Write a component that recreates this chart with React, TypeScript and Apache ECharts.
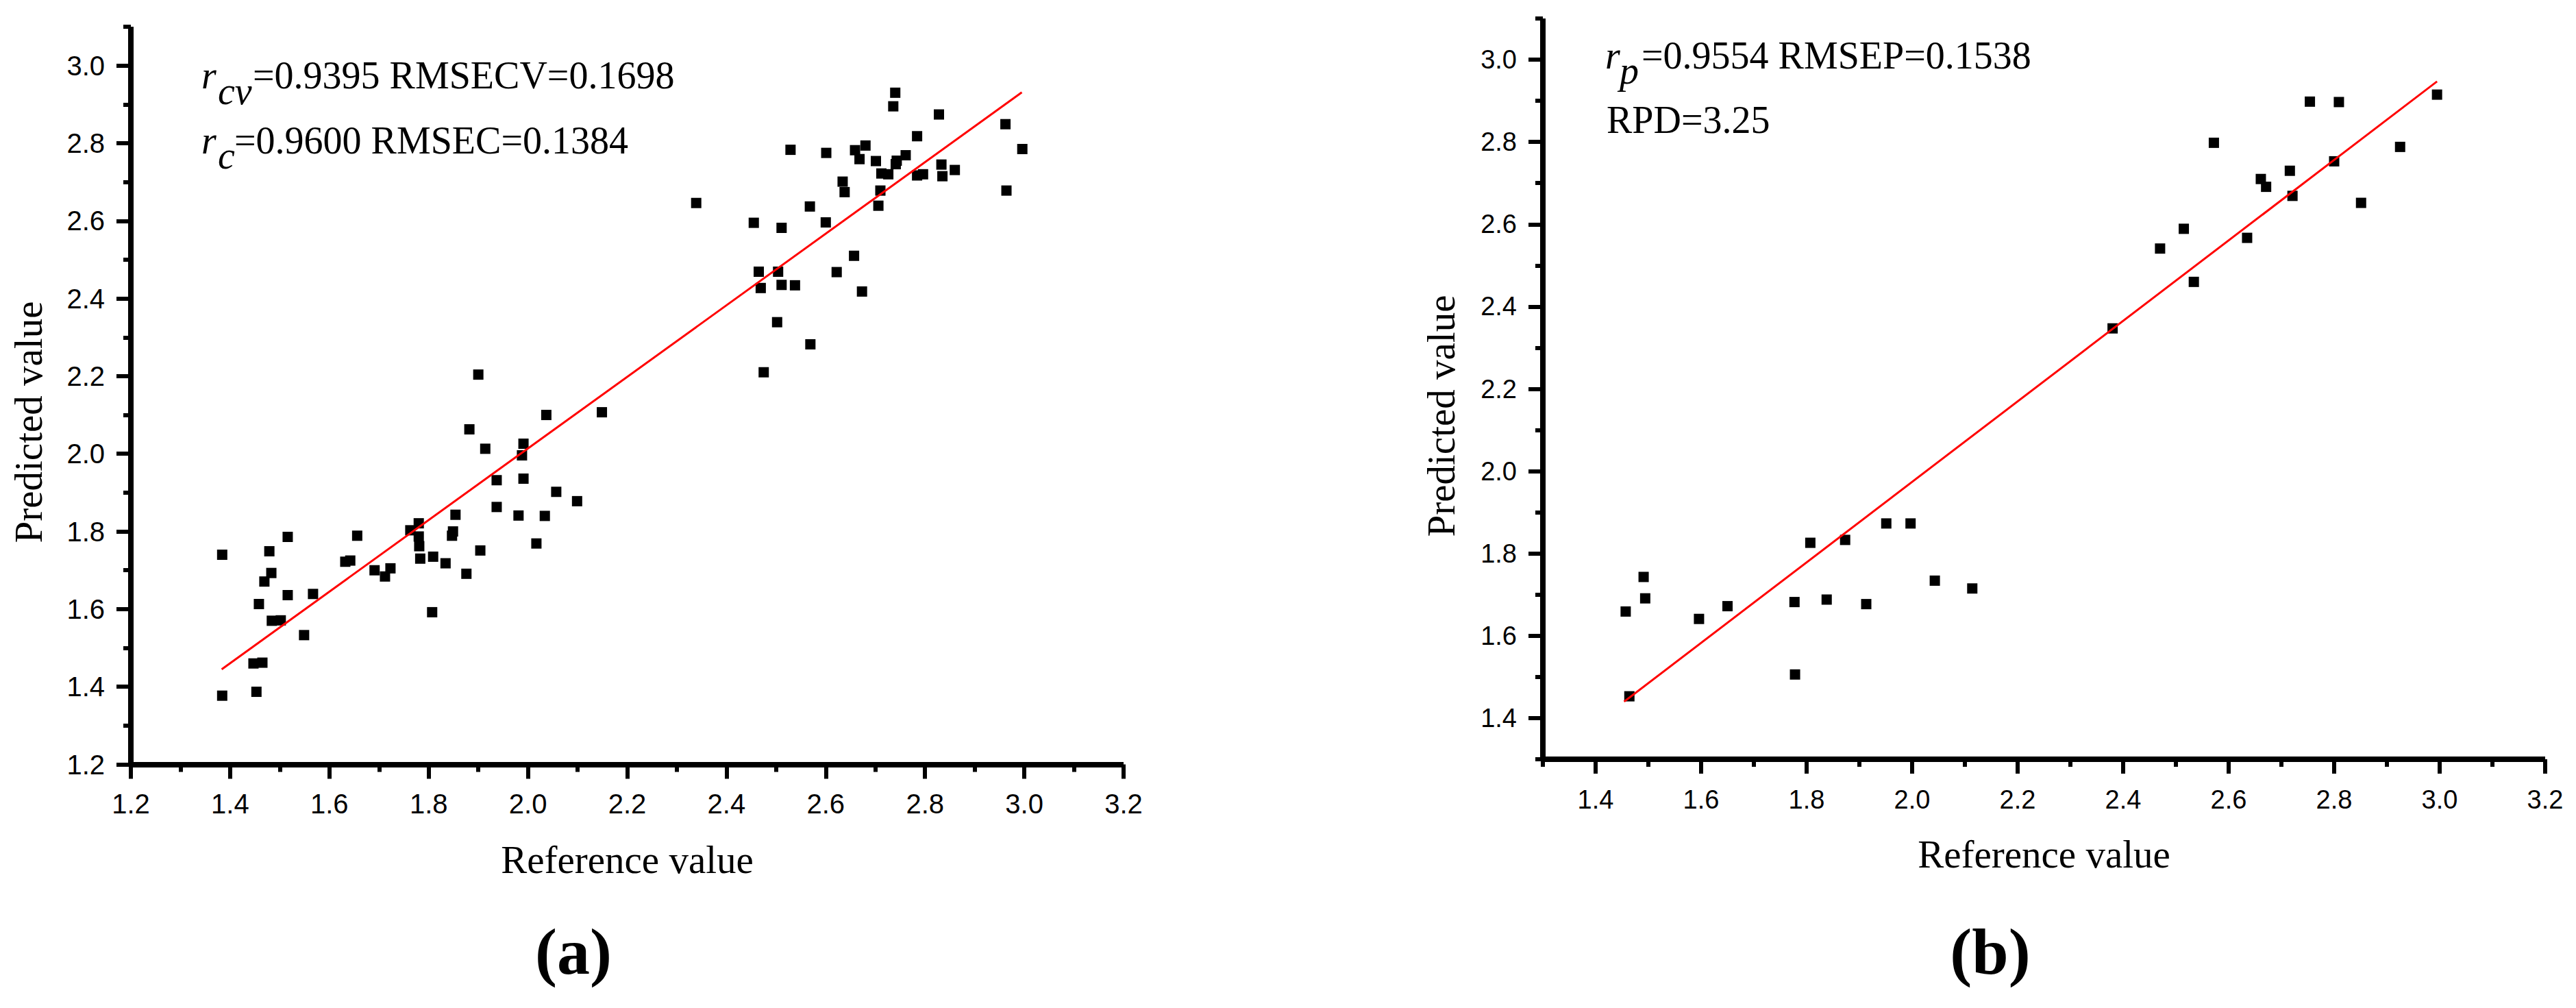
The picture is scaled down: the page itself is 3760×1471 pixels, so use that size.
import React, { useEffect, useRef } from "react";
import * as echarts from "echarts";

// ---------- Data: panel (a) calibration ----------
const REF_A = [
  1.384, 1.384, 1.453, 1.447, 1.465, 1.458, 1.469, 1.483, 1.479, 1.516,
  1.484, 1.502, 1.516, 1.549, 1.567, 1.632, 1.642, 1.656, 1.691, 1.712,
  1.723, 1.763, 1.78, 1.78, 1.781, 1.783, 1.809, 1.807, 1.834, 1.854,
  1.849, 1.847, 1.876, 1.904, 1.882, 1.914, 1.937, 1.937, 2.037, 2.149,
  1.991, 1.988, 1.991, 2.057, 2.099, 1.981, 2.034, 2.017, 1.9, 2.339,
  2.455, 2.511, 2.568, 2.6, 2.529, 2.601, 2.659, 2.68, 2.668, 2.701,
  2.74, 2.736, 2.828, 2.784, 2.761, 2.743, 2.741, 2.634, 2.638, 2.712,
  2.726, 2.71, 2.706, 2.784, 2.796, 2.833, 2.835, 2.86, 2.962, 2.996,
  2.964, 2.465, 2.504, 2.469, 2.511, 2.538, 2.622, 2.657, 2.673, 2.502,
  2.569, 2.475,
];
const PRED_A = [
  1.74, 1.377, 1.387, 1.46, 1.462, 1.613, 1.671, 1.693, 1.749, 1.786,
  1.57, 1.571, 1.636, 1.533, 1.639, 1.722, 1.725, 1.789, 1.7, 1.684,
  1.705, 1.803, 1.821, 1.787, 1.762, 1.73, 1.735, 1.592, 1.718, 1.843,
  1.8, 1.789, 1.691, 1.751, 2.063, 2.013, 1.932, 1.863, 2.1, 2.107,
  2.026, 1.996, 1.936, 1.902, 1.878, 1.841, 1.84, 1.769, 2.204, 2.646,
  2.595, 2.582, 2.637, 2.596, 2.783, 2.775, 2.782, 2.794, 2.759, 2.754,
  2.93, 2.895, 2.874, 2.818, 2.769, 2.755, 2.746, 2.701, 2.674, 2.722,
  2.72, 2.678, 2.639, 2.717, 2.72, 2.745, 2.715, 2.731, 2.849, 2.785,
  2.678, 2.469, 2.469, 2.427, 2.435, 2.434, 2.468, 2.51, 2.418, 2.339,
  2.282, 2.21,
];
const FIT_A_X = [1.383, 2.995];
const FIT_A_Y = [1.445, 2.931];

// ---------- Data: panel (b) prediction ----------
const REF_B = [
  1.464, 1.457, 1.491, 1.494, 1.596, 1.65, 1.777, 1.778, 1.807, 1.838,
  1.873, 1.913, 1.951, 1.997, 2.043, 2.114, 2.38, 2.47, 2.515, 2.534,
  2.572, 2.635, 2.661, 2.671, 2.716, 2.721, 2.754, 2.809, 2.8, 2.851,
  2.925, 2.995,
];
const PRED_B = [
  1.453, 1.659, 1.743, 1.691, 1.641, 1.672, 1.682, 1.506, 1.826, 1.688,
  1.833, 1.677, 1.873, 1.873, 1.734, 1.715, 2.347, 2.541, 2.589, 2.46,
  2.798, 2.567, 2.71, 2.691, 2.73, 2.669, 2.898, 2.897, 2.753, 2.652,
  2.788, 2.915,
];
const FIT_B_X = [1.454, 2.995];
const FIT_B_Y = [1.44, 2.947];

// ---------- Tick values ----------
const A_X_MAJOR = [1.2, 1.4, 1.6, 1.8, 2.0, 2.2, 2.4, 2.6, 2.8, 3.0, 3.2];
const A_X_MINOR = [1.3, 1.5, 1.7, 1.9, 2.1, 2.3, 2.5, 2.7, 2.9, 3.1];
const A_Y_MAJOR = [1.2, 1.4, 1.6, 1.8, 2.0, 2.2, 2.4, 2.6, 2.8, 3.0];
const A_Y_MINOR = [1.3, 1.5, 1.7, 1.9, 2.1, 2.3, 2.5, 2.7, 2.9, 3.1];
const B_X_MAJOR = [1.4, 1.6, 1.8, 2.0, 2.2, 2.4, 2.6, 2.8, 3.0, 3.2];
const B_X_MINOR = [1.3, 1.5, 1.7, 1.9, 2.1, 2.3, 2.5, 2.7, 2.9, 3.1];
const B_Y_MAJOR = [1.4, 1.6, 1.8, 2.0, 2.2, 2.4, 2.6, 2.8, 3.0];
const B_Y_MINOR = [1.3, 1.5, 1.7, 1.9, 2.1, 2.3, 2.5, 2.7, 2.9, 3.1];

const X_NAME = "Reference value";
const Y_NAME = "Predicted value";

const SERIF = "Liberation Serif";
const SANS = "Liberation Sans";

const AXIS_W = 8;
const TICK_W = 6;

// major axis: line + long ticks + labels
function majorAxis(
  dim: "x" | "y",
  gridIndex: number,
  min: number,
  max: number,
  ticks: number[],
  labelSize: number,
  labelMargin: number,
  name?: string,
  nameGap?: number
) {
  const a: any = {
    type: "value",
    gridIndex,
    min,
    max,
    position: dim === "x" ? "bottom" : "left",
    splitLine: { show: false },
    axisLine: { show: true, onZero: false, lineStyle: { color: "#000", width: AXIS_W, cap: "butt" } },
    axisTick: {
      show: true,
      inside: false,
      length: 21,
      customValues: ticks,
      lineStyle: { color: "#000", width: TICK_W, cap: "butt" },
    },
    axisLabel: {
      show: true,
      customValues: ticks,
      formatter: (v: number) => v.toFixed(1),
      fontSize: labelSize,
      fontFamily: SANS,
      color: "#000",
      margin: labelMargin,
    },
  };
  if (name) {
    a.name = name;
    a.nameLocation = "middle";
    a.nameGap = nameGap;
    a.nameTextStyle = { fontFamily: SERIF, fontSize: 57, color: "#000" };
  }
  return a;
}

// minor axis (on an overlapping twin grid): short ticks only
function minorAxis(dim: "x" | "y", gridIndex: number, min: number, max: number, ticks: number[]) {
  return {
    type: "value",
    gridIndex,
    min,
    max,
    position: dim === "x" ? "bottom" : "left",
    splitLine: { show: false },
    axisLine: { show: false, onZero: false },
    axisTick: {
      show: true,
      inside: false,
      length: 11,
      customValues: ticks,
      lineStyle: { color: "#000", width: TICK_W, cap: "butt" },
    },
    axisLabel: { show: false },
  };
}

function txt(
  text: string,
  x: number,
  y: number,
  size: number,
  opts: { italic?: boolean; bold?: boolean; align?: string; rotation?: number } = {}
) {
  return {
    type: "text",
    x,
    y,
    rotation: opts.rotation || 0,
    silent: true,
    style: {
      text,
      fill: "#000",
      fontSize: size,
      fontFamily: SERIF,
      fontStyle: opts.italic ? "italic" : "normal",
      fontWeight: opts.bold ? "bold" : "normal",
      align: opts.align || "left",
      verticalAlign: "middle",
    },
  };
}

const GRID_A = { left: 191, top: 39, width: 1449, height: 1076.5 };
const GRID_B = { left: 2252, top: 27, width: 1463, height: 1081 };

export default function App() {
  const ref = useRef<HTMLDivElement>(null);

  useEffect(() => {
    if (!ref.current) return;
    const chart = echarts.init(ref.current, undefined, { renderer: "svg" });

    const scatterStyle = { color: "#000", opacity: 1 };

    const option: any = {
      animation: false,
      backgroundColor: "#fff",
      // grids 0/2 carry the major axes and data; 1/3 are identical twins for minor ticks
      grid: [
        { ...GRID_A, outerBoundsMode: "none", containLabel: false },
        { ...GRID_A, outerBoundsMode: "none", containLabel: false },
        { ...GRID_B, outerBoundsMode: "none", containLabel: false },
        { ...GRID_B, outerBoundsMode: "none", containLabel: false },
      ],
      xAxis: [
        majorAxis("x", 0, 1.2, 3.2, A_X_MAJOR, 40, 37, X_NAME, 110),
        minorAxis("x", 1, 1.2, 3.2, A_X_MINOR),
        majorAxis("x", 2, 1.3, 3.2, B_X_MAJOR, 38, 40, X_NAME, 110),
        minorAxis("x", 3, 1.3, 3.2, B_X_MINOR),
      ],
      yAxis: [
        majorAxis("y", 0, 1.2, 3.1, A_Y_MAJOR, 40, 38),
        minorAxis("y", 1, 1.2, 3.1, A_Y_MINOR),
        majorAxis("y", 2, 1.3, 3.1, B_Y_MAJOR, 38, 38),
        minorAxis("y", 3, 1.3, 3.1, B_Y_MINOR),
      ],
      series: [
        {
          type: "scatter",
          xAxisIndex: 0,
          yAxisIndex: 0,
          symbol: "rect",
          symbolSize: 15,
          itemStyle: scatterStyle,
          emphasis: { disabled: true },
          data: REF_A.map((x, i) => [x, PRED_A[i]]),
          z: 3,
        },
        {
          type: "line",
          xAxisIndex: 0,
          yAxisIndex: 0,
          showSymbol: false,
          symbol: "none",
          lineStyle: { color: "#ff0000", width: 3, opacity: 1 },
          data: FIT_A_X.map((x, i) => [x, FIT_A_Y[i]]),
          z: 4,
        },
        {
          type: "scatter",
          xAxisIndex: 2,
          yAxisIndex: 2,
          symbol: "rect",
          symbolSize: 15,
          itemStyle: scatterStyle,
          emphasis: { disabled: true },
          data: REF_B.map((x, i) => [x, PRED_B[i]]),
          z: 3,
        },
        {
          type: "line",
          xAxisIndex: 2,
          yAxisIndex: 2,
          showSymbol: false,
          symbol: "none",
          lineStyle: { color: "#ff0000", width: 3, opacity: 1 },
          data: FIT_B_X.map((x, i) => [x, FIT_B_Y[i]]),
          z: 4,
        },
      ],
      graphic: [
        // y-axis names
        txt(Y_NAME, 41, 616, 57, { align: "center", rotation: Math.PI / 2 }),
        txt(Y_NAME, 2103, 607, 57, { align: "center", rotation: Math.PI / 2 }),
        // panel (a) statistics
        txt("r", 294, 110, 56, { italic: true }),
        txt("cv", 318, 133, 56, { italic: true }),
        txt("=0.9395 RMSECV=0.1698", 369, 110, 56),
        txt("r", 294, 205, 56, { italic: true }),
        txt("c", 318, 227, 56, { italic: true }),
        txt("=0.9600 RMSEC=0.1384", 342, 205, 56),
        // panel (b) statistics
        txt("r", 2343, 80.5, 56, { italic: true }),
        txt("p", 2364, 103, 56, { italic: true }),
        txt("=0.9554 RMSEP=0.1538", 2396, 80.5, 56),
        txt("RPD=3.25", 2345, 175, 56),
        // panel labels
        txt("(a)", 837, 1388, 96, { bold: true, align: "center" }),
        txt("(b)", 2905, 1388, 96, { bold: true, align: "center" }),
      ],
    };

    chart.setOption(option);
    return () => chart.dispose();
  }, []);

  return (
    <div
      ref={ref}
      style={{ position: "fixed", left: 0, top: 0, width: 3760, height: 1471, background: "#fff" }}
    />
  );
}
